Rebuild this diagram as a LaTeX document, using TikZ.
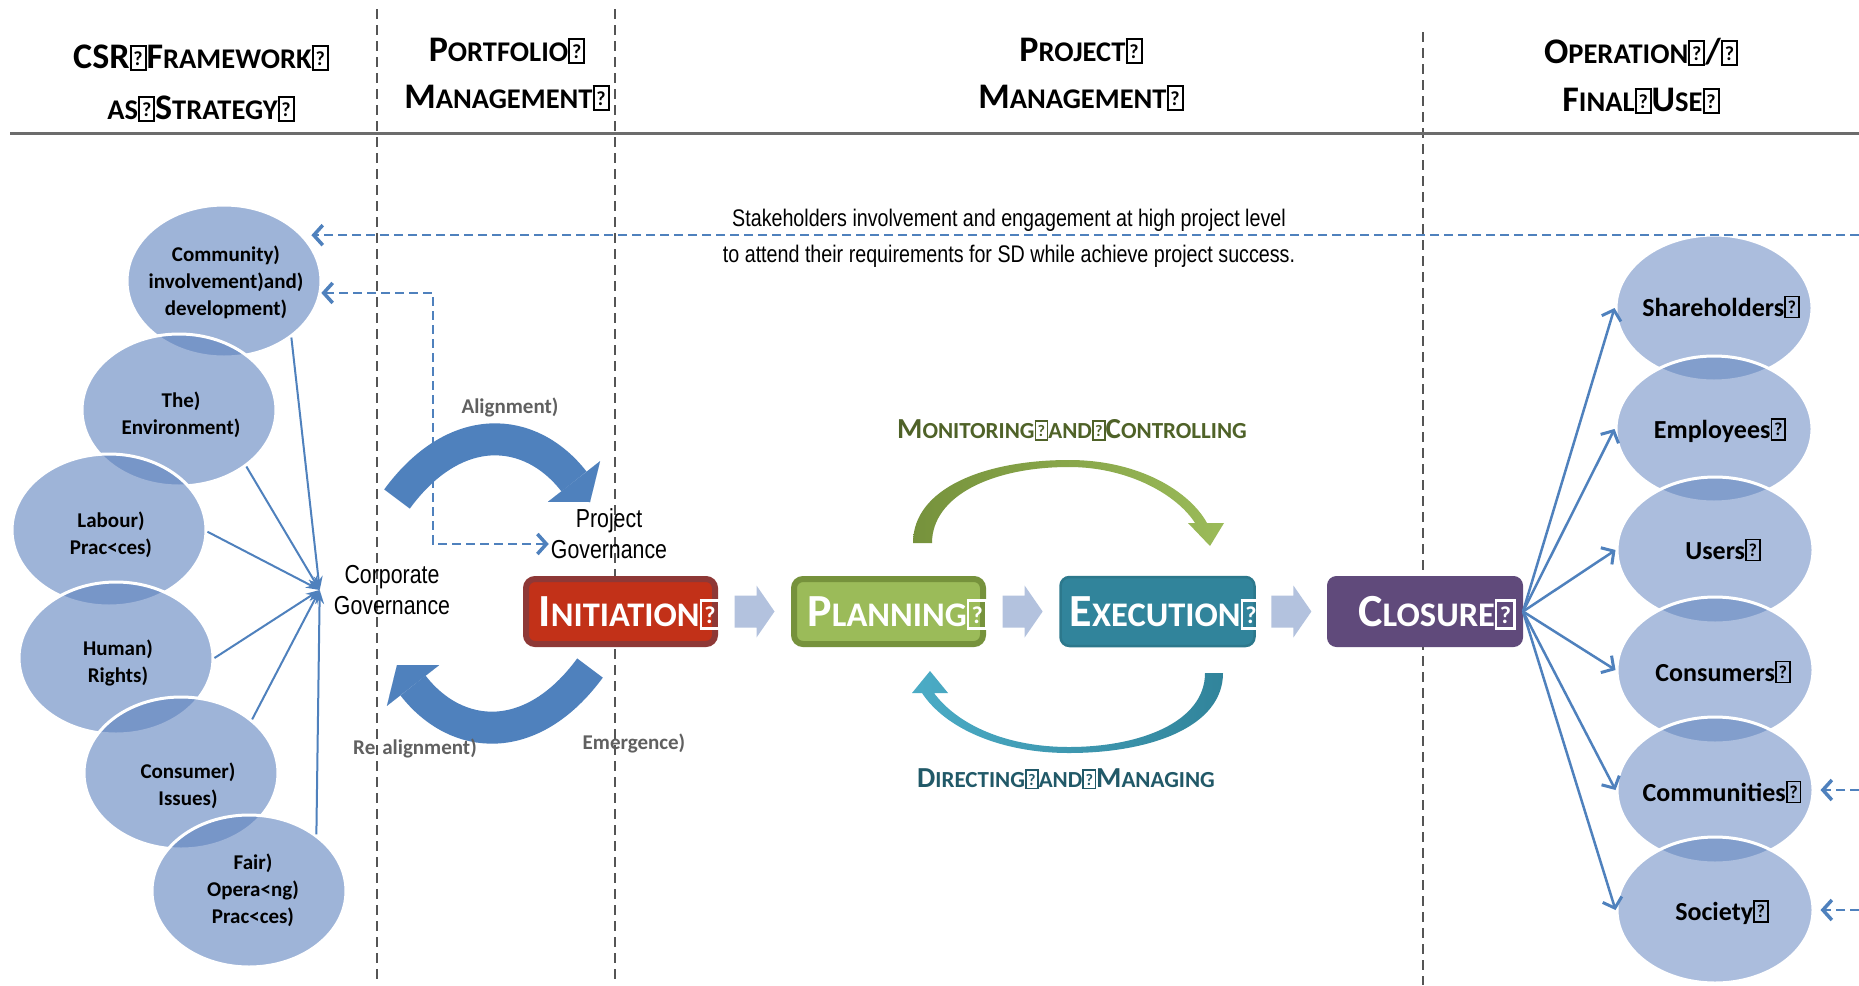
\documentclass[tikz,border=0pt]{standalone}
\usepackage{fontspec}
\usepackage{graphicx}
\setmainfont{Carlito}
\newfontfamily\narrowfont[FakeStretch=0.82]{Liberation Sans}
\usetikzlibrary{arrows.meta,calc,shapes.geometric}

\definecolor{ellc}{RGB}{94,130,190}
\definecolor{lblue}{RGB}{79,129,189}
\definecolor{chevc}{RGB}{179,194,222}
\definecolor{inifill}{RGB}{194,49,24}
\definecolor{iniborder}{RGB}{142,56,54}
\definecolor{plafill}{RGB}{155,187,89}
\definecolor{plaborder}{RGB}{118,146,60}
\definecolor{exefill}{RGB}{49,132,155}
\definecolor{exeborder}{RGB}{44,120,140}
\definecolor{clofill}{RGB}{96,74,123}
\definecolor{mongreen}{RGB}{79,98,40}
\definecolor{dirteal}{RGB}{33,89,104}
\definecolor{graytxt}{RGB}{96,96,96}
\definecolor{divgray}{RGB}{85,85,85}
\definecolor{greendark}{RGB}{118,146,60}
\definecolor{greenlight}{RGB}{155,187,89}
\definecolor{teallight}{RGB}{75,172,198}
\definecolor{tealdark}{RGB}{49,132,155}

\newcommand\bsz{30}
\newcommand\ssz{24}
\newcommand\Bg[1]{{\fontsize{\bsz}{\bsz}\selectfont #1}}
\newcommand\Sm[1]{{\fontsize{\ssz}{\ssz}\selectfont #1}}
\newcommand\qb{{\setlength\fboxsep{0pt}\setlength\fboxrule{0.07em}\fbox{\makebox[0.46em]{\rule[-0.02em]{0pt}{0.74em}\raisebox{0.1em}{\scalebox{0.7}{?}}}}}}
\newcommand\chevron[1]{\fill[chevc,shift={(#1)}] (-20,-16) -- (2,-16) -- (2,-26) -- (20,0) -- (2,26) -- (2,16) -- (-20,16) -- cycle;}

\begin{document}
\begin{tikzpicture}[x=1pt,y=-1pt,
  hdr/.style={font=\bfseries\def\bsz{36}\def\ssz{28.5}, inner sep=0pt, anchor=base},
  divider/.style={draw=divgray, line width=2pt, dash pattern=on 10pt off 6pt},
  hline/.style={draw=gray!85!black, line width=3pt},
  lell/.style={ellipse, minimum width=194pt, minimum height=152pt, inner sep=0pt, fill=ellc, fill opacity=0.6, draw=white, draw opacity=1, line width=3pt},
  rell/.style={ellipse, minimum width=196pt, minimum height=146pt, inner sep=0pt, fill=ellc, fill opacity=0.52, draw=white, draw opacity=1, line width=3pt},
  ltxt/.style={font=\bfseries\fontsize{21}{27}\selectfont, align=center, inner sep=0pt},
  rtxt/.style={font=\bfseries\fontsize{26}{30}\selectfont, inner sep=0pt},
  phase/.style={rectangle, rounded corners=9pt, inner sep=0pt},
  phtxt/.style={font=\bfseries\def\bsz{46}\def\ssz{34.5}, text=white, inner sep=0pt, anchor=base},
  cyclab/.style={font=\bfseries\def\bsz{29}\def\ssz{23}, inner sep=0pt},
  graylab/.style={font=\bfseries\fontsize{21}{25}\selectfont, text=graytxt, inner sep=0pt},
  govtxt/.style={font=\narrowfont\fontsize{26}{31}\selectfont, align=center, inner sep=0pt},
  stktxt/.style={font=\narrowfont\fontsize{24}{36}\selectfont, align=center, inner sep=0pt},
  conv/.style={draw=lblue, line width=2pt, -{Stealth[length=14pt,width=9pt]}},
  fan/.style={draw=lblue, line width=2.5pt, -{Straight Barb[length=9pt,width=20pt,line width=3pt]}},
  dasharr/.style={draw=lblue, line width=2.5pt, dash pattern=on 9pt off 5pt, -{Straight Barb[length=9pt,width=20pt,line width=3.5pt]}},
  bigarr/.style={draw=lblue, line width=32pt, -{Triangle[length=26pt,width=66pt,line width=0.01pt]}}
]
\useasboundingbox (0,0) rectangle (1859,985);
\fill[white] (0,0) rectangle (1859,985);

% dividers
\draw[divider] (377,9) -- (377,985);
\draw[divider] (615,9) -- (615,985);
\draw[divider] (1423,32) -- (1423,985);
\draw[hline] (10,133) -- (1859,133);

% headers
\node[hdr] (h1a) at (201,68) {\Bg{CSR}\Sm{\qb}\Bg{F}\Sm{RAMEWORK\qb}};
\node[hdr] (h1b) at (201,119) {\Sm{AS\qb}\Bg{S}\Sm{TRATEGY\qb}};
\node[hdr] (h2a) at (507,61) {\Bg{P}\Sm{ORTFOLIO\qb}};
\node[hdr] (h2b) at (507,108) {\Bg{M}\Sm{ANAGEMENT\qb}};
\node[hdr] (h3a) at (1081,61) {\Bg{P}\Sm{ROJECT\qb}};
\node[hdr] (h3b) at (1081,108) {\Bg{M}\Sm{ANAGEMENT\qb}};
\node[hdr] (h4a) at (1641,63) {\Bg{O}\Sm{PERATION\qb}\Bg{/}\Sm{\qb}};
\node[hdr] (h4b) at (1641,111) {\Bg{F}\Sm{INAL\qb}\Bg{U}\Sm{SE\qb}};

% left ellipses
\node[lell] (comm) at (224,281) {};
\node[lell] (envi) at (179,410) {};
\node[lell] (labo) at (109,530) {};
\node[lell] (huma) at (116,658) {};
\node[lell] (cons) at (181,773) {};
\node[lell] (fair) at (249,891) {};
\node[ltxt] (commt) at (226,282) {Community)\\involvement)and)\\development)};
\node[ltxt] (envit) at (181,415) {The)\\Environment)};
\node[ltxt] (labot) at (111,535) {Labour)\\Prac<ces)};
\node[ltxt] (humat) at (118,663) {Human)\\Rights)};
\node[ltxt] (const) at (188,786) {Consumer)\\Issues)};
\node[ltxt] (fairt) at (253,890) {Fair)\\Opera<ng)\\Prac<ces)};

% right ellipses
\node[rell] (shar) at (1714,308) {};
\node[rell] (empl) at (1714,429) {};
\node[rell] (user) at (1715,550) {};
\node[rell] (cnsm) at (1715,670) {};
\node[rell] (cmty) at (1715,790) {};
\node[rell] (socy) at (1715,910) {};
\node[rtxt] (shart) at (1721,307) {Shareholders\qb};
\node[rtxt] (emplt) at (1720,430) {Employees\qb};
\node[rtxt] (usert) at (1723,550) {Users\qb};
\node[rtxt] (cnsmt) at (1723,672) {Consumers\qb};
\node[rtxt] (cmtyt) at (1722,792) {Communities\qb};
\node[rtxt] (socyt) at (1722,912) {Society\qb};

% governance texts
\node[govtxt] (cg) at (392,590) {Corporate\\Governance};
\node[govtxt] (pg) at (609,534) {Project\\Governance};
\coordinate (cgpt) at ([xshift=-14pt]cg.west);
\coordinate (pgin) at ([xshift=-2pt,yshift=-10pt]pg.west);

% converging arrows
\draw[conv] (comm.-40) -- (cgpt);
\draw[conv] (envi.-40) -- (cgpt);
\draw[conv] (labo.-1) -- (cgpt);
\draw[conv] (huma.0) -- (cgpt);
\draw[conv] (cons.37) -- (cgpt);
\draw[conv] (fair.40) -- (cgpt);

% big blue arrows
\draw[bigarr] (397,499) .. controls (455,420) and (530,425) .. (590,502);
\draw[bigarr] (590,668) .. controls (532,747) and (457,742) .. (397,665);
\node[graylab] (alig) at (510,407) {Alignment)};
\node[graylab] (real) at (415,748) {Re\hspace{7pt}alignment)};
\node[graylab] (emer) at (634,743) {Emergence)};

% phases
\node[phase, fill=inifill, draw=iniborder, line width=6pt, minimum width=189pt, minimum height=65pt] (ini) at (620.5,611.5) {};
\node[phase, fill=plafill, draw=plaborder, line width=6pt, minimum width=189pt, minimum height=65pt] (pla) at (888.5,611.5) {};
\node[phase, fill=exefill, draw=exeborder, line width=2.5pt, minimum width=194pt, minimum height=69pt] (exe) at (1157.5,611.5) {};
\node[phase, fill=clofill, draw=clofill, line width=1pt, minimum width=195pt, minimum height=70pt] (clo) at (1425,611.5) {};
\node[phtxt] (init) at ([xshift=9pt,yshift=-15pt]ini.center) {\Bg{I}\Sm{NITIATION\qb}};
\node[phtxt] (plat) at ([xshift=9pt,yshift=-15pt]pla.center) {\Bg{P}\Sm{LANNING\qb}};
\node[phtxt] (exet) at ([xshift=8pt,yshift=-15pt]exe.center) {\Bg{E}\Sm{XECUTION\qb}};
\node[phtxt] (clot) at ([xshift=12pt,yshift=-15pt]clo.center) {\Bg{C}\Sm{LOSURE\qb}};

% chevrons
\coordinate (m1) at ($(ini.east)!0.5!(pla.west)$);
\coordinate (m2) at ($(pla.east)!0.5!(exe.west)$);
\coordinate (m3) at ($(exe.east)!0.5!(clo.west)$);
\chevron{m1}
\chevron{m2}
\chevron{m3}

% cycle arrows
\shade[left color=greendark, right color=greenlight] (913,543) .. controls (913,488) and (985,460) .. (1069,460) .. controls (1140,460) and (1190,492) .. (1207,523) -- (1224,523) -- (1210,546) -- (1188,523) -- (1195,523) .. controls (1178,496) and (1130,467) .. (1069,467) .. controls (992,467) and (932,496) .. (932,543) -- cycle;
\shade[left color=teallight, right color=tealdark] (1223,673) .. controls (1223,727) and (1150,753) .. (1069,753) .. controls (1000,753) and (945,728) .. (922,693) -- (912,693) -- (930,671) -- (948,693) -- (934,693) .. controls (957,724) and (1005,747) .. (1069,747) .. controls (1140,747) and (1205,722) .. (1205,673) -- cycle;
\node[cyclab, text=mongreen] (monl) at (1072,430) {\Bg{M}\Sm{ONITORING\qb AND\qb}\Bg{C}\Sm{ONTROLLING}};
\node[cyclab, text=dirteal] (dirl) at (1066,779) {\Bg{D}\Sm{IRECTING\qb AND\qb}\Bg{M}\Sm{ANAGING}};

% fan arrows
\draw[fan] (clo.east) -- (shar.west);
\draw[fan] (clo.east) -- (empl.west);
\draw[fan] (clo.east) -- (user.west);
\draw[fan] (clo.east) -- (cnsm.west);
\draw[fan] (clo.east) -- (cmty.west);
\draw[fan] (clo.east) -- (socy.west);

% stakeholder dashed arrows
\coordinate (re) at (1859,0);
\coordinate (dk) at (433,0);
\node[stktxt] (stk) at (1009,238) {Stakeholders involvement and engagement at high project level\\to attend their requirements for SD while achieve project success.};
\draw[dasharr] (re |- comm.30) -- ([xshift=8pt]comm.30);
\draw[dasharr, {Straight Barb[length=9pt,width=20pt,line width=3.5pt]}-{Straight Barb[length=9pt,width=20pt,line width=3.5pt]}] (comm.-7) -- (comm.-7 -| dk) |- (pgin);
\draw[dasharr] (re |- cmty.east) -- ([xshift=6pt]cmty.east);
\draw[dasharr] (re |- socy.east) -- ([xshift=6pt]socy.east);
\end{tikzpicture}
\end{document}
